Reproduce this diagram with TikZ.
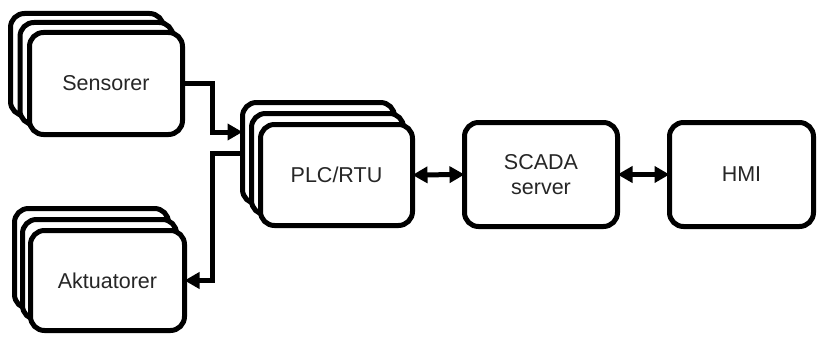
\documentclass[tikz,border=0pt]{standalone}
\usepackage{fontspec}
\setmainfont{Liberation Sans}
\usetikzlibrary{arrows.meta}
\begin{document}
\begin{tikzpicture}[x=1pt,y=-1pt,
  blk/.style={draw=black,line width=5pt,fill=white,rounded corners=14pt,
    inner sep=0pt,outer sep=0pt,align=center,text=black!85,
    font=\fontsize{21.5}{25}\selectfont},
  sbox/.style={blk,minimum width=153pt,minimum height=102pt},
  abox/.style={blk,minimum width=154pt,minimum height=100pt},
  pbox/.style={blk,minimum width=152pt,minimum height=101pt},
  tip/.tip={Triangle[length=15pt,width=16pt]},
  conn/.style={line width=5pt,-tip},
  bconn/.style={line width=5pt,tip-tip}]
\useasboundingbox (0,0) rectangle (817,337);
% Sensorer stack
\node[sbox] (s3) at (87,64.5) {};
\node[sbox] (s2) at (96.5,73.5) {};
\node[sbox] (sens) at (106,83.5) {Sensorer};
% Aktuatorer stack
\node[abox] (a3) at (91.5,258.5) {};
\node[abox] (a2) at (99.5,269.5) {};
\node[abox] (akt) at (107.5,280.5) {Aktuatorer};
% PLC stack
\node[pbox] (p3) at (318.5,153) {};
\node[pbox] (p2) at (327.5,164) {};
\node[pbox] (plc) at (336.5,175) {PLC/RTU};
% SCADA, HMI
\node[blk,minimum width=153pt,minimum height=104pt] (scada) at (541,174.5) {SCADA\\server};
\node[blk,minimum width=144pt,minimum height=104pt] (hmi) at (741.5,174.5) {HMI};
% connectors
\coordinate (sj) at (212,0);
\coordinate (pin) at (0,132);
\draw[conn] (sens.east) -- (sens.east -| sj) |- (p3.west |- pin);
\draw[conn] (p3.west) -- (p3.west -| sj) |- (akt.east);
\draw[bconn] (plc.east) -- (scada.west);
\draw[bconn] (scada.east) -- (hmi.west);
\end{tikzpicture}
\end{document}
